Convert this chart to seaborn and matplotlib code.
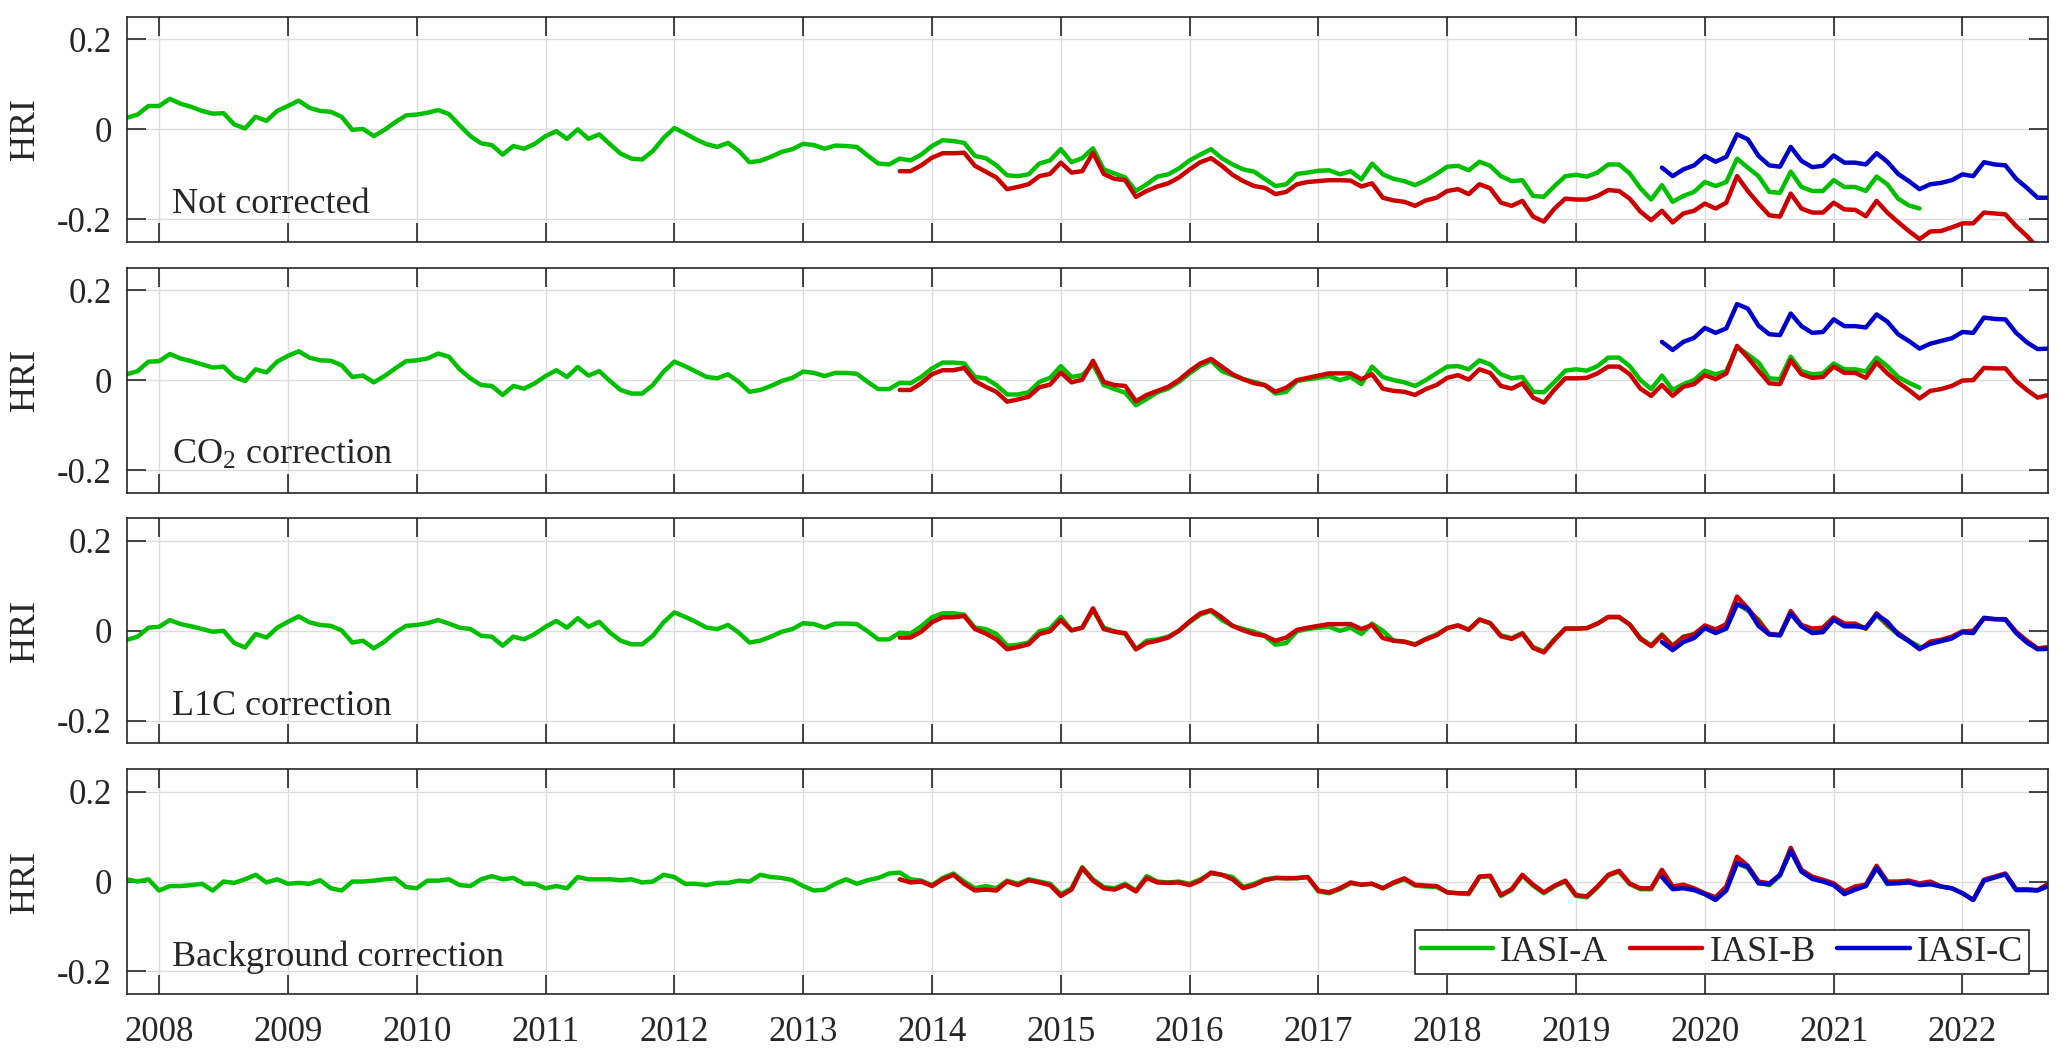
import numpy as np
import pandas as pd
import seaborn as sns
import matplotlib.pyplot as plt

# monthly HRI values
# IASI-A: Oct 2007 - Sep 2021, IASI-B: Oct 2013 - Sep 2022, IASI-C: Sep 2019 - Sep 2022
start_a = "2007-10"
start_b = "2013-10"
start_c = "2019-09"

series_names = ["IASI-A", "IASI-B", "IASI-C"]
series_colors = ["#00c000", "#cc0000", "#0000cc"]
panel_titles = ["Not corrected", "CO$_2$ correction", "L1C correction", "Background correction"]
year_ticks = list(range(2008, 2023))
hri_ticks = [-0.2, 0, 0.2]
hri_tick_labels = ["-0.2", "0", "0.2"]

# --- Not corrected ---
raw_a = [
    0.026, 0.033, 0.052,
    0.052, 0.068, 0.057, 0.050, 0.041, 0.035, 0.036, 0.011, 0.002, 0.028, 0.019, 0.041,
    0.052, 0.064, 0.048, 0.041, 0.039, 0.028, -0.001, 0.001, -0.015, -0.001, 0.016, 0.031,
    0.033, 0.037, 0.043, 0.034, 0.009, -0.015, -0.031, -0.035, -0.056, -0.037, -0.043, -0.032,
    -0.015, -0.004, -0.021, 0.000, -0.021, -0.011, -0.033, -0.054, -0.065, -0.067, -0.048, -0.019,
    0.003, -0.009, -0.022, -0.033, -0.039, -0.030, -0.048, -0.073, -0.070, -0.061, -0.050, -0.044,
    -0.032, -0.035, -0.043, -0.036, -0.037, -0.039, -0.058, -0.076, -0.078, -0.065, -0.069, -0.056,
    -0.037, -0.024, -0.026, -0.030, -0.059, -0.064, -0.080, -0.102, -0.104, -0.100, -0.076, -0.069,
    -0.044, -0.073, -0.064, -0.042, -0.089, -0.098, -0.107, -0.137, -0.122, -0.105, -0.100, -0.087,
    -0.069, -0.056, -0.044, -0.064, -0.078, -0.089, -0.094, -0.110, -0.126, -0.122, -0.099, -0.096,
    -0.092, -0.091, -0.100, -0.093, -0.111, -0.076, -0.100, -0.110, -0.115, -0.124, -0.113, -0.099,
    -0.083, -0.081, -0.091, -0.072, -0.081, -0.104, -0.115, -0.113, -0.148, -0.150, -0.126, -0.104,
    -0.101, -0.105, -0.096, -0.078, -0.078, -0.098, -0.131, -0.156, -0.124, -0.161, -0.148, -0.139,
    -0.117, -0.126, -0.117, -0.065, -0.085, -0.104, -0.139, -0.141, -0.094, -0.128, -0.137, -0.137,
    -0.113, -0.128, -0.128, -0.137, -0.105, -0.122, -0.154, -0.169, -0.176,
]
raw_b = [
    -0.093, -0.093, -0.080,
    -0.063, -0.053, -0.053, -0.052, -0.081, -0.094, -0.107, -0.133, -0.128, -0.122, -0.104, -0.099,
    -0.074, -0.096, -0.093, -0.052, -0.099, -0.110, -0.113, -0.150, -0.137, -0.127, -0.120, -0.107,
    -0.089, -0.073, -0.064, -0.081, -0.101, -0.115, -0.126, -0.130, -0.144, -0.139, -0.122, -0.117,
    -0.115, -0.113, -0.113, -0.114, -0.127, -0.120, -0.152, -0.158, -0.161, -0.170, -0.158, -0.152,
    -0.137, -0.133, -0.144, -0.122, -0.131, -0.163, -0.170, -0.159, -0.194, -0.205, -0.176, -0.154,
    -0.156, -0.156, -0.148, -0.135, -0.137, -0.154, -0.183, -0.202, -0.181, -0.207, -0.187, -0.181,
    -0.165, -0.176, -0.163, -0.104, -0.137, -0.165, -0.191, -0.194, -0.143, -0.176, -0.185, -0.185,
    -0.163, -0.178, -0.179, -0.193, -0.159, -0.185, -0.206, -0.226, -0.244, -0.227, -0.226, -0.218,
    -0.209, -0.209, -0.185, -0.187, -0.189, -0.215, -0.237, -0.263, -0.280,
]
raw_c = [
    -0.085, -0.104, -0.089, -0.080,
    -0.059, -0.072, -0.061, -0.011, -0.022, -0.059, -0.080, -0.083, -0.039, -0.070, -0.084, -0.081,
    -0.058, -0.074, -0.074, -0.078, -0.053, -0.072, -0.099, -0.115, -0.133, -0.122, -0.119, -0.113,
    -0.100, -0.104, -0.073, -0.078, -0.080, -0.110, -0.130, -0.152, -0.152,
]

# --- CO2 correction ---
co2_a = [
    0.013, 0.020, 0.041,
    0.042, 0.058, 0.048, 0.042, 0.035, 0.028, 0.030, 0.007, -0.002, 0.024, 0.017, 0.041,
    0.054, 0.064, 0.050, 0.044, 0.043, 0.033, 0.007, 0.010, -0.005, 0.009, 0.026, 0.042,
    0.044, 0.048, 0.059, 0.052, 0.024, 0.004, -0.011, -0.013, -0.033, -0.013, -0.019, -0.007,
    0.009, 0.022, 0.007, 0.029, 0.010, 0.020, -0.002, -0.022, -0.030, -0.030, -0.011, 0.019,
    0.041, 0.031, 0.019, 0.007, 0.004, 0.013, -0.004, -0.026, -0.022, -0.013, -0.002, 0.005,
    0.019, 0.016, 0.009, 0.016, 0.016, 0.014, -0.004, -0.020, -0.020, -0.006, -0.007, 0.007,
    0.026, 0.039, 0.039, 0.037, 0.007, 0.004, -0.011, -0.032, -0.032, -0.027, -0.004, 0.005,
    0.031, 0.007, 0.011, 0.035, -0.011, -0.020, -0.028, -0.056, -0.042, -0.027, -0.019, -0.004,
    0.015, 0.032, 0.043, 0.020, 0.011, 0.002, -0.004, -0.011, -0.030, -0.026, -0.002, 0.002,
    0.005, 0.009, 0.000, 0.007, -0.009, 0.030, 0.007, 0.000, -0.005, -0.013, 0.000, 0.015,
    0.030, 0.031, 0.024, 0.044, 0.035, 0.013, 0.004, 0.007, -0.026, -0.027, -0.004, 0.021,
    0.024, 0.021, 0.031, 0.050, 0.050, 0.031, 0.000, -0.020, 0.010, -0.022, -0.009, 0.000,
    0.021, 0.013, 0.020, 0.074, 0.057, 0.039, 0.004, 0.002, 0.052, 0.020, 0.013, 0.015,
    0.037, 0.024, 0.024, 0.019, 0.050, 0.031, 0.007, -0.006, -0.017,
]
co2_b = [
    -0.022, -0.022, -0.007,
    0.013, 0.022, 0.022, 0.027, -0.002, -0.015, -0.026, -0.048, -0.043, -0.037, -0.016, -0.010,
    0.017, -0.005, 0.001, 0.043, -0.004, -0.011, -0.013, -0.047, -0.033, -0.024, -0.015, 0.000,
    0.020, 0.037, 0.047, 0.030, 0.013, 0.002, -0.007, -0.011, -0.026, -0.017, 0.000, 0.005,
    0.010, 0.015, 0.015, 0.015, 0.002, 0.013, -0.019, -0.024, -0.026, -0.033, -0.020, -0.011,
    0.005, 0.011, 0.001, 0.024, 0.016, -0.013, -0.019, -0.007, -0.039, -0.050, -0.021, 0.004,
    0.004, 0.005, 0.015, 0.030, 0.030, 0.013, -0.019, -0.035, -0.011, -0.035, -0.015, -0.009,
    0.011, 0.002, 0.015, 0.076, 0.050, 0.021, -0.007, -0.009, 0.044, 0.013, 0.005, 0.007,
    0.030, 0.016, 0.016, 0.005, 0.039, 0.015, -0.005, -0.022, -0.041, -0.024, -0.020, -0.013,
    -0.001, 0.000, 0.027, 0.026, 0.026, -0.002, -0.022, -0.039, -0.033,
]
co2_c = [
    0.085, 0.067, 0.085, 0.094,
    0.116, 0.105, 0.115, 0.169, 0.159, 0.121, 0.102, 0.100, 0.148, 0.120, 0.105, 0.107,
    0.135, 0.120, 0.120, 0.117, 0.146, 0.130, 0.102, 0.087, 0.070, 0.081, 0.087, 0.093,
    0.107, 0.105, 0.139, 0.136, 0.135, 0.105, 0.084, 0.069, 0.070,
]

# --- L1C correction ---
l1c_a = [
    -0.020, -0.013, 0.007,
    0.009, 0.024, 0.015, 0.010, 0.004, -0.002, 0.000, -0.027, -0.037, -0.007, -0.015, 0.007,
    0.020, 0.032, 0.019, 0.013, 0.011, 0.001, -0.026, -0.022, -0.039, -0.024, -0.004, 0.011,
    0.013, 0.017, 0.024, 0.016, 0.007, 0.004, -0.011, -0.013, -0.033, -0.013, -0.019, -0.007,
    0.009, 0.022, 0.007, 0.028, 0.009, 0.020, -0.004, -0.022, -0.030, -0.030, -0.011, 0.019,
    0.041, 0.031, 0.020, 0.007, 0.004, 0.013, -0.004, -0.026, -0.022, -0.013, -0.002, 0.004,
    0.017, 0.015, 0.007, 0.016, 0.016, 0.015, -0.001, -0.019, -0.019, -0.004, -0.006, 0.010,
    0.030, 0.039, 0.039, 0.036, 0.007, 0.004, -0.007, -0.033, -0.031, -0.026, -0.001, 0.005,
    0.031, 0.001, 0.007, 0.046, 0.007, -0.001, -0.007, -0.041, -0.022, -0.019, -0.013, 0.000,
    0.019, 0.036, 0.044, 0.024, 0.011, 0.004, -0.002, -0.011, -0.031, -0.027, -0.001, 0.004,
    0.007, 0.009, 0.000, 0.007, -0.007, 0.016, 0.000, -0.022, -0.024, -0.030, -0.018, -0.008,
    0.006, 0.012, 0.003, 0.025, 0.017, -0.010, -0.016, -0.005, -0.036, -0.046, -0.018, 0.005,
    0.005, 0.006, 0.016, 0.030, 0.030, 0.014, -0.016, -0.032, -0.008, -0.033, -0.013, -0.007,
    0.010, 0.002, 0.010, 0.060, 0.045, 0.025, -0.008, -0.010, 0.042, 0.010, 0.003, 0.005,
    0.027, 0.013, 0.013, 0.005, 0.035, 0.012, -0.008, -0.022, -0.035,
]
l1c_b = [
    -0.015, -0.015, -0.002,
    0.019, 0.030, 0.030, 0.033, 0.004, -0.006, -0.019, -0.041, -0.036, -0.030, -0.007, -0.001,
    0.024, 0.001, 0.007, 0.050, 0.004, -0.002, -0.005, -0.041, -0.027, -0.022, -0.015, 0.000,
    0.021, 0.039, 0.046, 0.030, 0.011, 0.001, -0.007, -0.011, -0.022, -0.015, 0.002, 0.007,
    0.011, 0.015, 0.015, 0.015, 0.004, 0.013, -0.016, -0.022, -0.024, -0.031, -0.019, -0.010,
    0.006, 0.012, 0.002, 0.025, 0.017, -0.012, -0.018, -0.006, -0.038, -0.048, -0.020, 0.005,
    0.005, 0.006, 0.016, 0.031, 0.031, 0.014, -0.018, -0.034, -0.010, -0.034, -0.014, -0.008,
    0.012, 0.003, 0.015, 0.076, 0.050, 0.021, -0.007, -0.009, 0.044, 0.013, 0.005, 0.007,
    0.030, 0.016, 0.016, 0.005, 0.039, 0.015, -0.005, -0.022, -0.041, -0.024, -0.020, -0.013,
    -0.001, 0.000, 0.027, 0.026, 0.026, -0.002, -0.022, -0.039, -0.036,
]
l1c_c = [
    -0.025, -0.043, -0.025, -0.016,
    0.006, -0.005, 0.005, 0.059, 0.049, 0.011, -0.008, -0.010, 0.038, 0.010, -0.005, -0.003,
    0.025, 0.010, 0.010, 0.007, 0.036, 0.020, -0.008, -0.023, -0.040, -0.029, -0.023, -0.017,
    -0.003, -0.005, 0.029, 0.026, 0.025, -0.005, -0.026, -0.041, -0.040,
]

# --- Background correction ---
bg_a = [
    0.005, 0.000, 0.005,
    -0.020, -0.010, -0.010, -0.008, -0.005, -0.020, 0.000, -0.003, 0.005, 0.015, -0.002, 0.005,
    -0.005, -0.003, -0.005, 0.003, -0.015, -0.020, 0.000, 0.000, 0.002, 0.005, 0.007, -0.012,
    -0.015, 0.002, 0.002, 0.005, -0.008, -0.010, 0.005, 0.012, 0.005, 0.008, -0.005, -0.005,
    -0.015, -0.010, -0.015, 0.010, 0.005, 0.005, 0.005, 0.003, 0.005, -0.002, 0.000, 0.015,
    0.010, -0.005, -0.005, -0.008, -0.003, -0.003, 0.002, 0.000, 0.015, 0.010, 0.008, 0.003,
    -0.010, -0.020, -0.018, -0.005, 0.005, -0.005, 0.003, 0.008, 0.018, 0.020, 0.005, 0.002,
    -0.008, 0.008, 0.018, 0.000, -0.015, -0.010, -0.015, 0.002, -0.005, 0.005, 0.000, -0.005,
    -0.028, -0.015, 0.032, 0.005, -0.012, -0.015, -0.005, -0.020, 0.012, 0.000, -0.002, 0.000,
    -0.005, 0.005, 0.018, 0.015, 0.010, -0.012, -0.005, 0.005, 0.008, 0.008, 0.007, 0.010,
    -0.022, -0.026, -0.017, -0.004, -0.007, -0.005, -0.015, -0.004, 0.005, -0.009, -0.011, -0.012,
    -0.024, -0.026, -0.028, 0.010, 0.012, -0.032, -0.019, 0.013, -0.009, -0.026, -0.011, 0.000,
    -0.032, -0.035, -0.013, 0.013, 0.022, -0.006, -0.017, -0.017, 0.024, -0.013, -0.010, -0.017,
    -0.028, -0.037, -0.013, 0.040, 0.030, -0.002, -0.008, 0.013, 0.070, 0.024, 0.008, 0.002,
    -0.006, -0.026, -0.015, -0.009, 0.033, -0.006, -0.002, 0.000, -0.006,
]
bg_b = [
    0.005, -0.002, 0.000,
    -0.010, 0.005, 0.015, -0.005, -0.020, -0.018, -0.020, 0.000, -0.008, 0.003, -0.002, -0.008,
    -0.032, -0.018, 0.030, 0.002, -0.015, -0.018, -0.008, -0.022, 0.008, -0.002, -0.003, -0.002,
    -0.008, 0.002, 0.020, 0.015, 0.005, -0.015, -0.008, 0.003, 0.008, 0.007, 0.008, 0.010,
    -0.020, -0.024, -0.015, -0.002, -0.007, -0.005, -0.015, -0.002, 0.007, -0.007, -0.009, -0.010,
    -0.024, -0.026, -0.026, 0.011, 0.013, -0.030, -0.017, 0.015, -0.007, -0.024, -0.009, 0.002,
    -0.030, -0.033, -0.011, 0.015, 0.024, -0.004, -0.015, -0.015, 0.026, -0.011, -0.007, -0.015,
    -0.026, -0.035, -0.011, 0.055, 0.035, 0.000, -0.004, 0.015, 0.075, 0.026, 0.011, 0.004,
    -0.004, -0.022, -0.011, -0.007, 0.035, 0.000, 0.000, 0.002, -0.004, 0.000, -0.011, -0.015,
    -0.026, -0.041, 0.004, 0.011, 0.018, -0.017, -0.017, -0.019, -0.005,
]
bg_c = [
    0.010, -0.017, -0.015, -0.019,
    -0.028, -0.041, -0.020, 0.041, 0.033, -0.004, -0.006, 0.015, 0.068, 0.022, 0.006, 0.000,
    -0.008, -0.028, -0.018, -0.010, 0.030, -0.004, -0.004, -0.002, -0.008, -0.006, -0.011, -0.015,
    -0.026, -0.041, 0.002, 0.009, 0.016, -0.019, -0.019, -0.020, -0.010,
]

panels = [
    (raw_a, raw_b, raw_c),
    (co2_a, co2_b, co2_c),
    (l1c_a, l1c_b, l1c_c),
    (bg_a, bg_b, bg_c),
]
starts = [start_a, start_b, start_c]


def decimal_year(start, n):
    p = pd.period_range(start, periods=n, freq="M")
    return np.asarray(p.year + (p.month - 1) / 12.0)


sns.set_theme(style="ticks")
plt.rcParams["font.family"] = ["Liberation Serif", "DejaVu Serif"]
plt.rcParams["mathtext.fontset"] = "custom"
plt.rcParams["mathtext.rm"] = "Liberation Serif"
plt.rcParams["mathtext.it"] = "Liberation Serif:italic"
plt.rcParams["axes.unicode_minus"] = False

fig, axes = plt.subplots(4, 1, figsize=(20.67, 10.59), dpi=100, sharex=True)
fig.subplots_adjust(left=0.0614, right=0.991, top=0.984, bottom=0.0614, hspace=0.115)

for ax, series, title in zip(axes, panels, panel_titles):
    frames = []
    for name, start, values in zip(series_names, starts, series):
        frames.append(pd.DataFrame({
            "time": decimal_year(start, len(values)),
            "hri": values,
            "sat": name,
        }))
    df = pd.concat(frames, ignore_index=True)
    sns.lineplot(data=df, x="time", y="hri", hue="sat", hue_order=series_names,
                 palette=series_colors, estimator=None, lw=3.2, ax=ax, legend=False)

    ax.set_xlim(2007.75, 2022.667)
    ax.set_ylim(-0.25, 0.25)
    ax.set_xticks(year_ticks)
    ax.set_yticks(hri_ticks)
    ax.set_yticklabels(hri_tick_labels)
    ax.grid(True, color="#dcdcdc", lw=1.0)
    ax.set_axisbelow(True)
    ax.tick_params(direction="in", length=13.5, width=1.2, top=True, right=True,
                   labelsize=25, color="#262626")
    ax.tick_params(axis="y", pad=11)
    ax.tick_params(axis="x", pad=16)
    for sp in ax.spines.values():
        sp.set_linewidth(1.2)
        sp.set_color("#262626")
    ax.set_xlabel("")
    ax.set_ylabel("HRI", fontsize=26, labelpad=11)
    ax.text(2008.1, -0.187, title, fontsize=26, va="baseline", ha="left")

axes[-1].set_xticklabels([str(y) for y in year_ticks])
leg = axes[-1].legend(axes[-1].get_lines()[:3], series_names, loc="lower right", ncol=3,
                      fontsize=26, frameon=True, fancybox=False, framealpha=1,
                      edgecolor="#262626", borderpad=0.15, handlelength=2.0,
                      handletextpad=0.2, columnspacing=0.6, borderaxespad=0.55)
leg.get_frame().set_linewidth(1.2)

fig.savefig("out.png", dpi=100)
